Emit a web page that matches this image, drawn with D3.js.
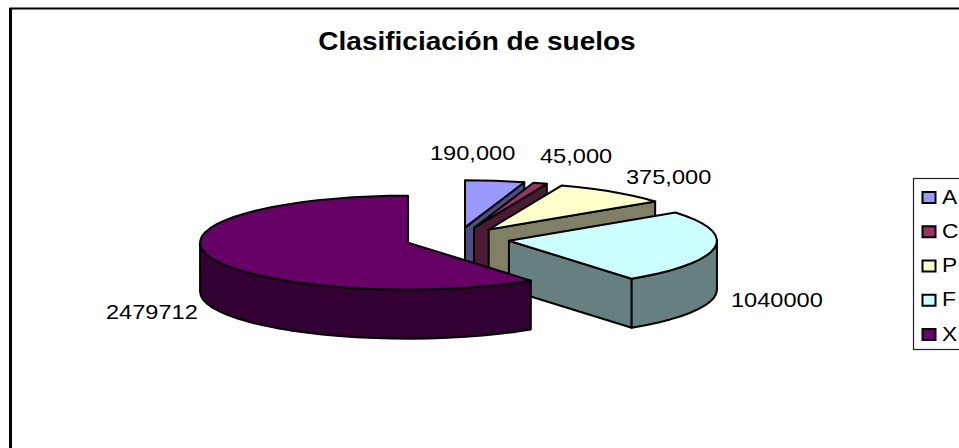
<!DOCTYPE html>
<html>
<head>
<meta charset="utf-8">
<script src="https://cdn.jsdelivr.net/npm/d3@7"></script>
<style>
html, body { margin: 0; padding: 0; background: #fff; overflow: hidden; }
text { font-family: "Liberation Sans", Arial, sans-serif; fill: #000; }
</style>
</head>
<body>
<div id="chart"></div>
<script>
// data
const categories = ["A", "C", "P", "F", "X"];
const values = [190000, 45000, 375000, 1040000, 2479712];
const valueLabels = ["190,000", "45,000", "375,000", "1040000", "2479712"];
const topColors = ["#9999ff", "#993366", "#ffffcc", "#ccffff", "#660066"];
const sideColors = ["#4d4d80", "#4d1a33", "#808066", "#668080", "#330033"];
const labelPos = [[430, 160], [540, 163], [626, 184], [731, 307], [106, 319]];

const width = 959, height = 448;
const cx = 457.5, cy = 239, rx = 208, ry = 47, depth = 49, explode = 52;
// the picture is stretched sideways, so the text is too
const stretch = 1.18;

const svg = d3.select("#chart").append("svg")
    .attr("width", width)
    .attr("height", height)
    .style("display", "block");

// outer frame, runs off the bottom and right of the picture
svg.append("rect")
    .attr("x", 10.5).attr("y", 8.5)
    .attr("width", 1000).attr("height", 500)
    .attr("fill", "#fff").attr("stroke", "#000").attr("stroke-width", 2);
svg.append("line")
    .attr("x1", 10.5).attr("x2", 10.5)
    .attr("y1", 8).attr("y2", height)
    .attr("stroke", "#000").attr("stroke-width", 3);

svg.append("text")
    .attr("transform", `translate(477, 50) scale(1.12, 1)`)
    .attr("text-anchor", "middle")
    .attr("font-weight", "bold")
    .attr("font-size", 25)
    .text("Clasificiación de suelos");

const pie = d3.pie().sort(null)(values);

// angle 0 is 12 o'clock, going clockwise, squashed into an ellipse
const px = (o, a) => o + rx * Math.sin(a);
const py = (o, a) => o - ry * Math.cos(a);

function arcPoints(ox, oy, a0, a1) {
    const n = Math.max(2, Math.ceil((a1 - a0) / 0.09));
    return d3.range(n + 1).map(i => {
        const a = a0 + (a1 - a0) * i / n;
        return [px(ox, a), py(oy, a)];
    });
}

const line = d3.line();
const g = svg.append("g").attr("stroke", "#000").attr("stroke-width", 2).attr("stroke-linejoin", "round");

pie.forEach((d, i) => {
    const mid = (d.startAngle + d.endAngle) / 2;
    const ox = cx + explode * Math.sin(mid);
    const oy = cy - explode * (ry / rx) * Math.cos(mid);

    // cut face on the clockwise end, only seen when it faces the viewer
    if (d.endAngle < Math.PI) {
        const e = [px(ox, d.endAngle), py(oy, d.endAngle)];
        g.append("path")
            .attr("d", line([[ox, oy], e, [e[0], e[1] + depth], [ox, oy + depth]]) + "Z")
            .attr("fill", sideColors[i]);
    }

    // outer rim, the part on the front half of the ellipse
    const a0 = Math.max(d.startAngle, Math.PI / 2);
    const a1 = Math.min(d.endAngle, 3 * Math.PI / 2);
    if (a1 > a0) {
        const rim = arcPoints(ox, oy, a0, a1);
        const low = rim.map(p => [p[0], p[1] + depth]).reverse();
        g.append("path")
            .attr("d", line(rim.concat(low)) + "Z")
            .attr("fill", sideColors[i]);
    }

    // top
    g.append("path")
        .attr("d", line([[ox, oy]].concat(arcPoints(ox, oy, d.startAngle, d.endAngle))) + "Z")
        .attr("fill", topColors[i]);
});

svg.append("g").selectAll("text")
    .data(valueLabels)
    .enter()
    .append("text")
    .attr("transform", (d, i) => `translate(${labelPos[i][0]}, ${labelPos[i][1]}) scale(${stretch}, 1)`)
    .attr("font-size", 20)
    .text(d => d);

// legend
const legendY = d3.scalePoint().domain(categories).range([197.5, 334.5]);

svg.append("rect")
    .attr("x", 913.5).attr("y", 178.5)
    .attr("width", 100).attr("height", 171)
    .attr("fill", "#fff").attr("stroke", "#222").attr("stroke-width", 1.2);

const rows = svg.append("g").selectAll("g")
    .data(categories)
    .enter()
    .append("g")
    .attr("transform", d => `translate(0, ${legendY(d)})`);

rows.append("rect")
    .attr("x", 922.5).attr("y", -5.5)
    .attr("width", 13).attr("height", 11)
    .attr("fill", (d, i) => topColors[i])
    .attr("stroke", "#000").attr("stroke-width", 2);

rows.append("text")
    .attr("transform", `translate(942, 6) scale(1.14, 1)`)
    .attr("font-size", 20)
    .text(d => d);
</script>
</body>
</html>
